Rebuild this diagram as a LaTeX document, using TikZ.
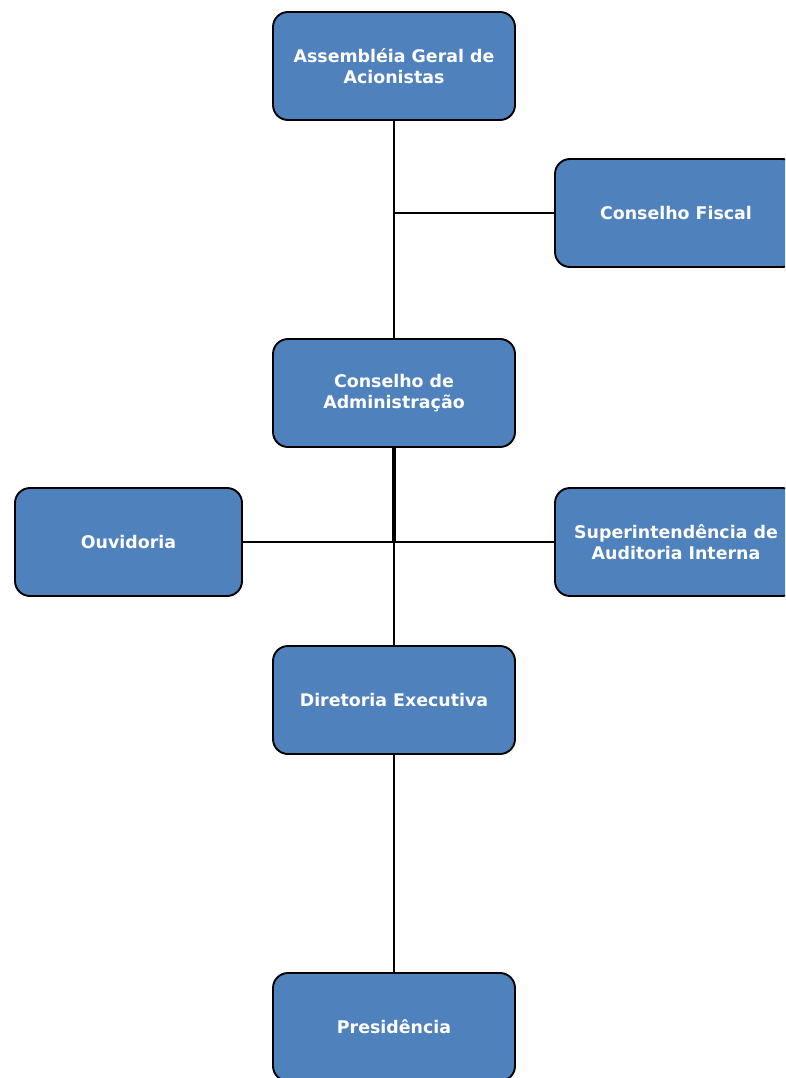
\documentclass[tikz,border=0pt]{standalone}
\usepackage{fontspec}
\setmainfont{DejaVu Sans}
\definecolor{boxblue}{HTML}{4F81BD}
\begin{document}
\begin{tikzpicture}[x=1pt,y=-1pt,
  orgbox/.style={draw=black, line width=1.9pt, fill=boxblue, rounded corners=15pt,
    minimum width=242pt, minimum height=108pt, inner sep=2pt, align=center,
    text=white, font=\fontsize{17.4}{21.5}\selectfont\bfseries},
  link/.style={draw=black, line width=1.9pt}]
\useasboundingbox (0,0) rectangle (785,1078);
\clip (0,0) rectangle (785,1078);
\node[orgbox] (agm) at (394,66) {Assembléia Geral de\\Acionistas};
\node[orgbox] (cf) at (676,213) {Conselho Fiscal};
\node[orgbox] (ca) at (394,393) {Conselho de\\Administração};
\node[orgbox, minimum width=227pt] (ouv) at (128.5,542) {Ouvidoria};
\node[orgbox] (sai) at (676,542) {Superintendência de\\Auditoria Interna};
\node[orgbox] (de) at (394,700) {Diretoria Executiva};
\node[orgbox] (pre) at (394,1027) {Presidência};
\coordinate (j1) at (agm.south |- cf.west);
\draw[link] (agm.south) -- (ca.north);
\draw[link] (j1) -- (cf.west);
\draw[link] ([xshift=-1pt]ca.south) |- (ouv.east);
\draw[link] ([xshift=1pt]ca.south) |- (sai.west);
\draw[link] (ca.south) -- (de.north);
\draw[link] (de.south) -- (pre.north);
\end{tikzpicture}
\end{document}
